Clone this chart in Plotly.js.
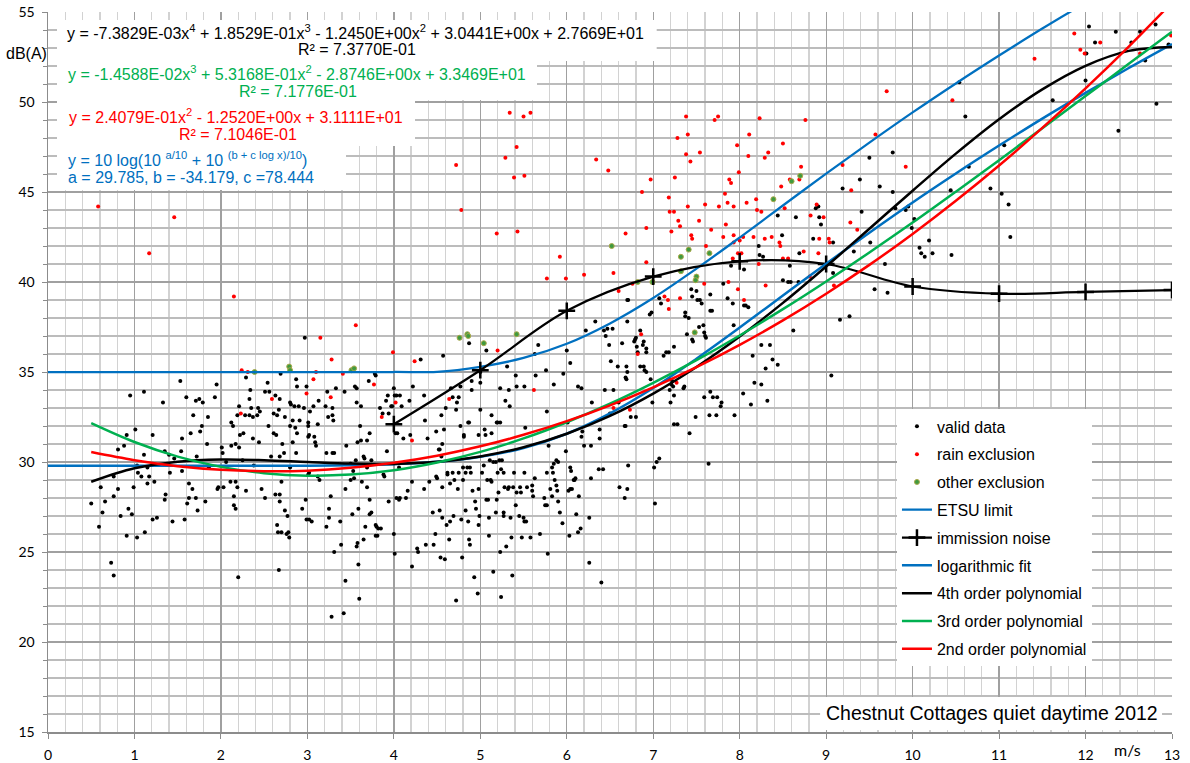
<!DOCTYPE html>
<html>
<head>
<meta charset="utf-8">
<script src="https://cdn.plot.ly/plotly-3.0.1.min.js"></script>
<style>html,body{margin:0;padding:0;background:#fff;}#chart{width:1190px;height:763px;}</style>
</head>
<body>
<div id="chart"></div>
<script>
// ---- measured points (wind speed m/s, level dB(A)) ----
const validData = [
[0.50,27.7],[0.59,26.4],[0.61,28.6],[0.63,27.2],[0.66,27.8],[0.73,24.4],[0.76,23.7],[0.76,28.1],[0.76,29.2],[0.81,28.5],[0.81,30.7],[0.84,27.0],[0.88,30.9],[0.91,31.5],[0.91,25.9],[0.93,27.4],[0.95,33.7],[0.97,27.1],[0.99,28.6],[1.01,31.8],[1.03,25.8],[1.03,29.8],[1.04,29.4],[1.08,29.2],[1.11,30.4],[1.11,33.9],[1.12,26.1],[1.15,29.7],[1.15,28.8],[1.17,29.2],[1.21,31.5],[1.21,26.8],[1.23,28.9],[1.26,26.9],[1.33,33.3],[1.35,30.6],[1.35,27.9],[1.36,28.2],[1.40,30.4],[1.41,29.4],[1.44,26.7],[1.46,30.2],[1.53,34.5],[1.54,30.6],[1.55,31.3],[1.55,29.5],[1.58,26.8],[1.60,33.6],[1.61,27.7],[1.63,28.8],[1.63,28.0],[1.65,31.6],[1.67,28.5],[1.68,32.6],[1.71,33.4],[1.72,30.3],[1.71,28.0],[1.73,27.3],[1.75,33.5],[1.76,31.7],[1.78,32.0],[1.79,33.3],[1.82,27.8],[1.84,31.0],[1.85,32.5],[1.86,29.7],[1.93,33.6],[1.95,34.3],[1.96,28.5],[1.97,28.6],[2.01,30.8],[2.02,30.5],[2.03,28.6],[2.06,30.0],[2.11,28.9],[2.12,30.9],[2.12,32.2],[2.14,32.0],[2.15,28.1],[2.15,27.6],[2.17,27.4],[2.17,31.0],[2.17,28.9],[2.19,32.6],[2.19,28.6],[2.20,23.6],[2.21,30.8],[2.21,33.1],[2.22,31.5],[2.25,30.1],[2.26,31.6],[2.28,32.6],[2.29,28.4],[2.29,34.7],[2.33,32.6],[2.33,33.5],[2.34,34.0],[2.35,33.0],[2.37,31.3],[2.37,32.5],[2.38,29.8],[2.42,32.6],[2.43,33.0],[2.44,31.1],[2.45,32.8],[2.47,28.5],[2.51,28.0],[2.51,33.9],[2.54,34.4],[2.55,32.0],[2.56,33.9],[2.58,30.3],[2.61,32.7],[2.61,31.6],[2.63,33.7],[2.64,31.5],[2.63,28.2],[2.65,32.6],[2.65,26.5],[2.66,26.1],[2.67,24.0],[2.67,32.9],[2.68,27.8],[2.68,30.3],[2.68,28.2],[2.68,33.5],[2.69,34.9],[2.70,28.9],[2.70,26.1],[2.71,31.0],[2.73,30.5],[2.74,27.3],[2.74,32.5],[2.76,26.0],[2.77,27.0],[2.78,26.1],[2.79,25.8],[2.80,29.7],[2.80,32.0],[2.80,33.3],[2.81,33.2],[2.83,32.3],[2.83,31.1],[2.85,33.1],[2.86,31.9],[2.87,30.5],[2.87,34.6],[2.88,34.2],[2.88,31.6],[2.90,33.1],[2.91,32.3],[2.94,27.4],[2.96,33.0],[2.97,36.9],[2.98,27.9],[2.99,26.8],[2.99,34.2],[3.01,32.0],[3.01,32.2],[3.01,31.4],[3.01,29.3],[3.02,26.8],[3.02,29.4],[3.02,31.5],[3.03,32.8],[3.05,26.7],[3.07,33.1],[3.08,31.4],[3.09,31.1],[3.10,30.9],[3.12,29.2],[3.12,32.1],[3.13,33.4],[3.14,29.0],[3.22,26.4],[3.21,33.1],[3.22,30.5],[3.23,33.9],[3.24,32.5],[3.25,27.4],[3.25,26.9],[3.27,28.1],[3.29,32.6],[3.29,30.5],[3.29,33.0],[3.30,32.3],[3.31,30.5],[3.31,25.0],[3.28,21.4],[3.33,34.1],[3.38,26.7],[3.39,25.4],[3.42,21.6],[3.43,33.9],[3.44,28.5],[3.44,23.4],[3.45,30.9],[3.50,29.0],[3.50,29.9],[3.52,27.1],[3.53,29.5],[3.54,29.1],[3.55,34.2],[3.56,30.1],[3.57,25.3],[3.57,34.1],[3.57,33.3],[3.58,31.1],[3.58,25.5],[3.59,24.3],[3.59,27.4],[3.60,22.4],[3.61,32.0],[3.62,31.2],[3.62,33.1],[3.63,28.9],[3.65,30.3],[3.66,30.2],[3.67,26.4],[3.65,25.7],[3.69,28.6],[3.69,29.7],[3.69,31.2],[3.71,34.5],[3.72,27.9],[3.72,31.6],[3.72,27.1],[3.74,30.1],[3.74,27.2],[3.78,34.9],[3.79,34.8],[3.79,26.5],[3.79,25.9],[3.80,26.4],[3.81,25.9],[3.82,26.3],[3.84,33.0],[3.85,26.3],[3.87,32.7],[3.88,29.3],[3.89,29.2],[3.91,33.4],[3.92,30.6],[3.93,33.7],[3.94,27.8],[3.94,32.7],[3.97,33.1],[3.98,33.1],[4.00,34.1],[4.00,26.0],[4.01,33.7],[4.01,24.9],[4.02,31.6],[4.03,33.7],[4.03,28.0],[4.04,31.6],[4.06,27.9],[4.07,33.7],[4.06,29.7],[4.07,28.0],[4.09,33.1],[4.11,31.3],[4.14,28.0],[4.16,28.4],[4.18,33.4],[4.19,31.5],[4.21,24.2],[4.21,28.9],[4.22,34.2],[4.27,25.2],[4.28,25.0],
[4.31,35.7],[4.35,33.7],[4.36,32.3],[4.35,28.5],[4.37,25.4],[4.39,31.3],[4.41,28.9],[4.45,27.2],[4.46,25.4],[4.48,26.0],[4.49,31.7],[4.49,29.2],[4.50,29.1],[4.52,30.7],[4.53,27.3],[4.53,30.7],[4.54,24.7],[4.55,32.6],[4.56,26.9],[4.56,31.0],[4.55,30.3],[4.56,28.6],[4.57,35.9],[4.58,31.8],[4.59,24.6],[4.60,33.0],[4.61,26.5],[4.62,29.3],[4.62,29.4],[4.64,25.7],[4.65,26.7],[4.65,28.8],[4.66,34.1],[4.68,33.6],[4.68,29.4],[4.69,27.0],[4.70,29.0],[4.72,32.9],[4.72,22.3],[4.73,33.3],[4.74,28.5],[4.75,29.4],[4.75,33.6],[4.77,34.2],[4.77,32.0],[4.78,26.8],[4.79,24.7],[4.80,29.0],[4.80,29.7],[4.81,31.4],[4.81,31.5],[4.83,29.4],[4.83,27.3],[4.85,29.7],[4.86,26.7],[4.86,32.2],[4.87,32.2],[4.87,25.7],[4.87,36.6],[4.88,29.7],[4.88,25.4],[4.89,29.4],[4.90,34.5],[4.90,34.0],[4.91,28.4],[4.93,23.6],[4.94,27.8],[4.95,27.4],[4.97,22.7],[4.98,31.5],[4.98,28.5],[4.98,26.5],[4.99,27.0],[5.00,34.4],[5.00,32.9],[5.00,35.0],[5.02,29.4],[5.04,29.8],[5.05,31.8],[5.06,31.5],[5.07,27.9],[5.07,36.2],[5.08,29.0],[5.09,27.9],[5.10,26.9],[5.10,25.9],[5.11,30.1],[5.12,29.0],[5.13,28.9],[5.13,31.6],[5.13,32.6],[5.15,23.9],[5.15,30.0],[5.18,27.2],[5.18,30.0],[5.19,27.9],[5.19,32.2],[5.20,32.2],[5.20,29.4],[5.21,28.3],[5.22,30.1],[5.23,34.1],[5.23,32.2],[5.23,25.0],[5.24,22.5],[5.24,29.6],[5.25,30.1],[5.27,27.0],[5.27,29.4],[5.27,27.2],[5.28,28.6],[5.29,33.4],[5.30,25.3],[5.31,35.3],[5.32,28.5],[5.33,34.0],[5.33,28.6],[5.34,33.1],[5.35,26.9],[5.36,25.8],[5.37,23.7],[5.38,28.6],[5.39,29.4],[5.41,34.8],[5.41,27.6],[5.42,28.3],[5.42,34.2],[5.45,27.0],[5.46,28.6],[5.47,28.3],[5.48,25.8],[5.50,26.9],[5.51,34.2],[5.51,29.4],[5.51,26.7],[5.52,31.9],[5.53,26.7],[5.54,28.6],[5.58,25.8],[5.60,28.7],[5.60,28.4],[5.61,28.1],[5.63,29.1],[5.64,34.8],[5.63,36.0],[5.67,36.5],[5.69,26.0],[5.74,28.0],[5.75,27.6],[5.77,27.6],[5.76,35.1],[5.77,29.4],[5.77,32.8],[5.78,24.9],[5.79,30.9],[5.81,28.5],[5.83,29.7],[5.83,28.1],[5.84,29.4],[5.85,34.3],[5.85,29.9],[5.86,29.0],[5.88,30.1],[5.88,28.7],[5.89,28.4],[5.90,30.0],[5.90,27.8],[5.92,27.2],[5.95,26.6],[5.96,34.9],[5.99,30.6],[6.00,36.2],[6.01,32.2],[6.02,28.4],[6.03,25.9],[6.04,28.5],[6.04,35.5],[6.04,29.7],[6.05,29.5],[6.06,28.5],[6.08,29.0],[6.09,29.0],[6.10,29.1],[6.11,27.1],[6.13,26.1],[6.14,28.1],[6.16,26.3],[6.13,34.2],[6.17,34.1],[6.17,31.4],[6.18,31.7],[6.20,30.9],[6.22,37.3],[6.26,26.9],[6.26,24.4],[6.28,29.1],[6.29,33.3],[6.28,30.9],[6.33,37.8],[6.37,29.6],[6.38,31.3],[6.38,31.8],[6.40,23.3],[6.42,29.6],[6.43,37.3],[6.44,34.0],[6.45,37.0],[6.47,37.4],[6.49,36.5],[6.51,35.6],[6.50,32.7],[6.53,37.4],[6.54,34.0],[6.59,35.3],[6.60,33.3],[6.61,28.6],[6.64,36.6],[6.67,32.0],[6.67,28.0],[6.68,32.0],[6.68,34.7],[6.69,34.6],[6.69,35.3],[6.70,35.0],[6.70,28.5],[6.71,29.8],[6.70,37.8],[6.70,39.0],[6.71,39.0],[6.74,32.5],[6.80,32.5],[6.78,36.7],[6.79,36.8],[6.80,36.9],[6.81,36.4],[6.82,36.1],[6.85,35.3],[6.85,37.3],[6.88,36.5],[6.89,35.3],[6.89,36.7],[6.90,35.1],[6.92,35.0],[6.92,36.3],[6.92,36.1],[6.96,38.2],[6.97,34.6],[6.98,38.3],[6.99,33.3],[7.01,29.7],[7.02,27.7],[7.04,30.0],[7.07,30.2],[7.07,39.1],[7.09,38.8],[7.12,35.9],[7.15,36.1],[7.18,36.1],[7.19,34.6],[7.19,34.0],[7.21,34.3],[7.22,34.5],[7.23,34.2],[7.24,33.7],[7.24,36.4],[7.20,33.3],[7.24,32.1],[7.28,32.1],[7.35,34.1],[7.36,34.2],[7.37,38.3],[7.37,38.1],[7.39,37.1],[7.41,38.0],[7.42,31.6],[7.44,39.6],[7.45,39.2],[7.45,36.8],[7.46,36.7],[7.49,32.5],[7.50,39.5],[7.51,39.0],[7.53,37.5],[7.54,39.0],[7.56,38.8],[7.58,37.6],[7.59,37.2],[7.59,33.6],[7.60,37.0],[7.61,36.9],[7.64,29.9],[7.65,32.6],[7.66,39.3],[7.66,38.4],[7.68,38.4],[7.66,33.9],[7.69,33.6],[7.73,32.6],[7.74,33.6],[7.78,33.1],[7.79,33.3],[7.81,39.9],[7.86,39.1],[7.92,38.8],[7.93,37.6],[7.94,32.6],[8.04,33.8],[8.05,38.7],[8.07,38.7],[8.10,38.6],[8.13,33.2],[8.17,34.4],[8.15,35.9],
[8.22,42.0],[8.27,41.4],[8.23,41.5],[8.44,43.7],[8.49,42.6],[8.65,43.6],[8.69,41.6],[8.58,40.9],[8.05,40.7],[7.90,40.9],[8.91,44.2],[8.88,44.1],[8.92,43.6],[8.94,43.2],[8.85,42.4],[9.08,42.2],[9.08,40.5],[9.19,45.2],[9.32,41.7],[9.39,45.7],[9.41,43.9],[9.50,46.9],[9.51,42.2],[9.56,39.6],[9.16,37.9],[9.27,38.1],[9.06,34.8],[8.62,37.3],[8.44,35.4],[8.38,35.7],[8.35,36.5],[8.25,36.5],[8.30,35.2],[8.25,34.3],[8.32,33.4],[8.59,40.0],[8.56,40.0],[8.50,40.1],[8.68,40.0],
[10.54,51.1],[10.61,49.2],[9.77,47.2],[9.62,45.3],[9.77,45.0],[9.80,44.1],[9.92,44.0],[9.95,44.2],[10.02,43.5],[9.99,43.0],[10.08,41.9],[10.10,41.6],[10.14,41.4],[10.19,42.3],[10.23,41.6],[10.45,41.5],[10.44,45.1],[10.65,46.4],[9.68,41.0],[9.71,39.4],[10.90,45.2],[11.03,44.9],[11.06,47.6],[11.11,44.3],[11.13,42.5],[11.62,50.1],[12.04,54.2],[12.01,52.7],[12.11,53.3],[12.00,51.2],[12.35,53.9],[12.38,48.4],[12.53,53.3],[12.63,53.9],[12.69,52.3],[12.81,54.3],[12.82,49.9],[12.96,53.2]
];
const rainData = [
[0.58,44.2],[1.17,41.6],[1.46,43.6],[2.15,39.2],[2.24,35.1],[2.31,35.0],[2.23,32.7],[2.59,33.5],[2.99,33.8],[3.07,34.6],[3.10,35.0],[3.15,36.9],[3.27,33.6],[3.28,35.7],[3.41,34.9],[3.56,37.6],[3.77,34.3],[3.86,32.5],[3.99,36.1],[4.02,33.3],[4.21,31.2],[4.24,35.6],[4.64,33.5],[4.72,46.5],[4.78,44.0],[5.19,42.7],[5.20,36.2],[5.29,46.9],[5.34,49.4],[5.39,45.8],[5.42,47.5],[5.43,42.8],[5.50,49.2],[5.51,45.9],[5.58,49.4],[5.62,34.0],[5.77,40.2],[5.92,41.4],[5.99,40.2],[6.20,40.4],[6.34,46.8],[6.48,46.2],[6.54,40.5],[6.54,33.0],[6.60,39.5],[6.68,42.7],[6.73,32.9],[6.76,39.9],[6.82,36.0],[6.86,37.1],[6.87,45.0],[6.92,41.1],[6.92,43.0],[6.97,45.7],[7.13,39.2],[7.17,39.0],[7.18,44.7],[7.18,38.5],[7.19,43.9],[7.21,42.8],[7.24,43.9],[7.25,45.8],[7.27,34.4],[7.28,48.0],[7.29,43.4],[7.31,39.1],[7.31,43.1],[7.38,49.2],[7.38,47.1],[7.40,48.2],[7.40,44.2],[7.43,46.7],[7.44,42.6],[7.45,42.4],[7.53,43.4],[7.54,47.2],[7.59,39.9],[7.60,44.3],[7.61,42.0],[7.67,42.9],[7.71,49.0],[7.75,49.2],[7.76,44.2],[7.81,42.5],[7.83,44.9],[7.84,43.2],[7.86,44.4],[7.87,40.0],[7.88,45.7],[7.90,45.5],[7.92,41.3],[7.93,42.6],[7.93,44.2],[7.93,42.2],[7.97,47.6],[7.98,41.6],[7.98,39.6],[7.99,46.1],[8.00,42.3],[8.02,41.6],[8.04,42.5],[8.05,39.0],[8.08,44.4],[8.10,47.0],[8.11,48.2],[8.16,42.5],[8.19,44.6],[8.20,44.0],[8.22,41.0],[8.23,49.1],[8.25,43.9],[8.29,46.9],[8.29,42.4],[8.30,39.8],[8.33,47.2],[8.37,42.5],[8.46,42.2],[8.47,42.0],[8.48,45.3],[8.50,47.7],[8.50,41.3],[8.52,44.1],[8.56,41.3],[8.58,45.7],[8.69,45.7],[8.71,46.4],[8.74,41.7],[8.76,49.0],[8.81,40.3],[8.82,43.7],[8.89,44.3],[8.91,41.6],[8.92,42.4],[8.97,43.6],[9.03,42.4],[9.04,42.2],[9.09,39.8],[9.19,46.5],[9.28,43.3],[9.29,45.1],[9.36,42.9],[9.57,48.2],[9.70,50.6],[9.92,46.4],[10.46,50.1],[11.41,52.4],[11.87,53.8],[11.94,52.9],[11.99,52.7],[12.17,53.3],[12.63,52.7],[12.99,53.7]
];
const otherData = [
[2.39,35.0],[2.79,35.3],[2.80,35.1],[3.51,35.1],[3.54,35.2],[4.76,36.9],[4.85,37.1],[4.86,37.0],[5.04,36.6],[5.42,37.1],[6.52,42.0],[6.82,40.0],[6.99,40.0],[7.32,41.4],[7.32,40.6],[7.41,41.8],[7.48,37.2],[7.50,40.3],[7.49,40.1],[7.65,41.6],[8.39,44.6],[8.60,45.6],[8.70,45.9]
];
// ---- fitted curves, values read at half-metre steps ----
const fitX  = [0.5,1,1.5,2,2.5,3,3.5,4,4.5,5,5.5,6,6.5,7,7.5,8,8.5,9,9.5,10,10.5,11,11.5,12,12.5,13];
const poly4 = [28.90,29.65,30.02,30.14,30.10,30.00,29.91,29.89,30.01,30.31,30.82,31.57,32.56,33.80,35.28,36.97,38.84,40.86,42.96,45.07,47.13,49.04,50.70,52.01,52.84,53.06];
const poly3 = [32.16,31.11,30.30,29.73,29.38,29.24,29.30,29.54,29.97,30.56,31.31,32.21,33.24,34.40,35.66,37.03,38.49,40.03,41.64,43.30,45.02,46.77,48.54,50.33,52.12,53.90];
const poly2 = [30.55,30.10,29.77,29.57,29.49,29.52,29.68,29.96,30.35,30.87,31.51,32.27,33.15,34.15,35.27,36.51,37.87,39.35,40.95,42.67,44.51,46.47,48.56,50.76,53.08,55.53];
const logX   = [0,0.5,1,1.5,2,2.5,3,3.5,4,4.5,5,5.5,6,6.5,7,7.5,8,8.5,9,9.5,10,10.5,11,11.5,12,12.5,13];
const logFit = [29.79,29.79,29.79,29.79,29.79,29.79,29.79,29.82,29.88,30.01,30.29,30.78,31.57,32.70,34.11,35.74,37.47,39.25,41.02,42.74,44.42,46.03,47.58,49.08,50.51,51.89,53.22];
const etsuX = [0,1,2,3,4,4.5,5,5.5,6,6.5,7,7.5,8,8.5,9,9.5,10,10.5,11,11.5,12,12.5,13];
const etsu  = [35,35,35,35,35,35.01,35.29,35.78,36.57,37.70,39.11,40.74,42.47,44.25,46.02,47.74,49.42,51.03,52.58,54.08,55.51,56.89,58.22];
const immX = [4,5,6,7,8,9,10,11,12,13];
const immY = [32.1,35.1,38.4,40.3,41.15,41.0,39.75,39.35,39.45,39.55];
// ---- text ----
const eqTexts = [
  'y = -7.3829E-03x<sup>4</sup> + 1.8529E-01x<sup>3</sup> - 1.2450E+00x<sup>2</sup> + 3.0441E+00x + 2.7669E+01',
  'R² = 7.3770E-01',
  'y = -1.4588E-02x<sup>3</sup> + 5.3168E-01x<sup>2</sup> - 2.8746E+00x + 3.3469E+01',
  'R² = 7.1776E-01',
  'y = 2.4079E-01x<sup>2</sup> - 1.2520E+00x + 3.1111E+01',
  'R² = 7.1046E-01',
  'y = 10 log(10 <sup>a/10</sup> + 10 <sup>(b + c log x)/10</sup>)',
  'a = 29.785, b = -34.179, c =78.444'
];
const seriesNames = ['valid data','rain exclusion','other exclusion','ETSU limit','immission noise','logarithmic fit','4th order polynomial','3rd order polynomial','2nd order polynomial'];
const chartLabel = 'Chestnut Cottages quiet daytime 2012';

const FONT = 'Liberation Sans, Arial, sans-serif';
const TICKFONT = 'Lato, sans-serif';
const BLUE = '#0070C0', GREEN = '#00B050', RED = '#FF0000';
const col = (a, i) => a.map(p => p[i]);

const traces = [
  {x: col(validData,0), y: col(validData,1), mode:'markers', name: seriesNames[0], legendgroup:'g1',
   marker:{color:'#000', size:4}},
  {x: col(rainData,0), y: col(rainData,1), mode:'markers', name: seriesNames[1], legendgroup:'g2',
   marker:{color:RED, size:4}},
  {x: col(otherData,0), y: col(otherData,1), mode:'markers', name: seriesNames[2], legendgroup:'g3',
   marker:{color:'#3F9A3F', size:5, line:{color:'#A9A84A', width:1}}},
  {x: etsuX, y: etsu, mode:'lines', name: seriesNames[3], legendgroup:'g4',
   line:{color:BLUE, width:2.25, shape:'spline'}},
  {x: immX, y: immY, mode:'lines+markers', name: seriesNames[4], legendgroup:'g5',
   line:{color:'#000', width:2.25, shape:'spline'},
   marker:{symbol:'cross-thin', size:12, color:'#000', line:{color:'#000', width:2.5}}},
  {x: logX, y: logFit, mode:'lines', name: seriesNames[5], legendgroup:'g6',
   line:{color:BLUE, width:2.5, shape:'spline'}},
  {x: fitX, y: poly4, mode:'lines', name: seriesNames[6], legendgroup:'g7',
   line:{color:'#000', width:2.5, shape:'spline'}},
  {x: fitX, y: poly3, mode:'lines', name: seriesNames[7], legendgroup:'g8',
   line:{color:GREEN, width:2.5, shape:'spline'}},
  {x: fitX, y: poly2, mode:'lines', name: seriesNames[8], legendgroup:'g9',
   line:{color:RED, width:2.5, shape:'spline'}}
];

function box(x0, x1, y0, y1) {
  return {type:'rect', xref:'x', yref:'y', x0, x1, y0, y1, fillcolor:'#fff', line:{width:0}, layer:'above'};
}
function txt(text, x, y, color, anchor, size) {
  return {text, x, y, xref:'x', yref:'y', xanchor:anchor, yanchor:'middle', showarrow:false,
          font:{family:FONT, size:size || 16, color}};
}

const layout = {
  width:1190, height:763,
  margin:{l:48, r:18, t:12, b:31, pad:0},
  paper_bgcolor:'#fff', plot_bgcolor:'#fff',
  showlegend:true,
  legend:{x:0.7553, y:0.448, xanchor:'left', yanchor:'top', bgcolor:'#fff', borderwidth:0,
          font:{family:FONT, size:16, color:'#000'}, itemwidth:30, traceorder:'grouped', tracegroupgap:4},
  xaxis:{range:[0,13], tick0:0, dtick:1, showgrid:true, gridcolor:'#a0a0a0', gridwidth:1.3,
         minor:{dtick:0.2, showgrid:true, gridcolor:'#d2d2d2', gridwidth:1.3},
         showline:true, linecolor:'#8c8c8c', linewidth:1.5, ticks:'outside', ticklen:5, tickcolor:'#8c8c8c',
         zeroline:false, tickfont:{family:TICKFONT, size:14, color:'#000'}, ticklabelstandoff:5, fixedrange:true},
  yaxis:{range:[15,55], tick0:15, dtick:5, showgrid:true, gridcolor:'#a0a0a0', gridwidth:1.3,
         minor:{dtick:1, showgrid:true, gridcolor:'#bcbcbc', gridwidth:1.3, ticks:'outside', ticklen:4, tickcolor:'#8c8c8c'},
         showline:true, linecolor:'#8c8c8c', linewidth:1.5, ticks:'outside', ticklen:5, tickcolor:'#8c8c8c',
         zeroline:false, tickfont:{family:TICKFONT, size:14, color:'#000'}, ticklabelstandoff:4, fixedrange:true},
  shapes:[
    box(0.104, 7.04, 52.28, 54.56),
    box(0.104, 5.656, 50.11, 52.28),
    box(0.104, 4.245, 47.56, 50.11),
    box(0.104, 3.447, 45.11, 47.56),
    box(8.93, 12.885, 15.11, 16.94)
  ],
  annotations:[
    txt(eqTexts[0], 0.20, 53.9, '#000', 'left'),
    txt(eqTexts[1], 3.574, 52.89, '#000', 'center'),
    txt(eqTexts[2], 0.21, 51.61, GREEN, 'left'),
    txt(eqTexts[3], 2.886, 50.61, GREEN, 'center'),
    txt(eqTexts[4], 0.22, 49.22, RED, 'left'),
    txt(eqTexts[5], 2.198, 48.22, RED, 'center'),
    txt(eqTexts[6], 0.21, 46.83, BLUE, 'left'),
    txt(eqTexts[7], 0.21, 45.83, BLUE, 'left'),
    txt(chartLabel, 10.913, 16.06, '#000', 'center', 19.5),
    {text:'dB(A)', xref:'paper', yref:'paper', x:-0.0187, y:0.943, xanchor:'center', yanchor:'middle',
     showarrow:false, font:{family:FONT, size:16, color:'#000'}},
    {text:'m/s', xref:'x', yref:'paper', x:12.49, y:-0.025, xanchor:'center', yanchor:'middle',
     showarrow:false, font:{family:TICKFONT, size:16, color:'#000'}}
  ]
};

Plotly.newPlot('chart', traces, layout, {displayModeBar:false, staticPlot:true});
</script>
</body>
</html>
